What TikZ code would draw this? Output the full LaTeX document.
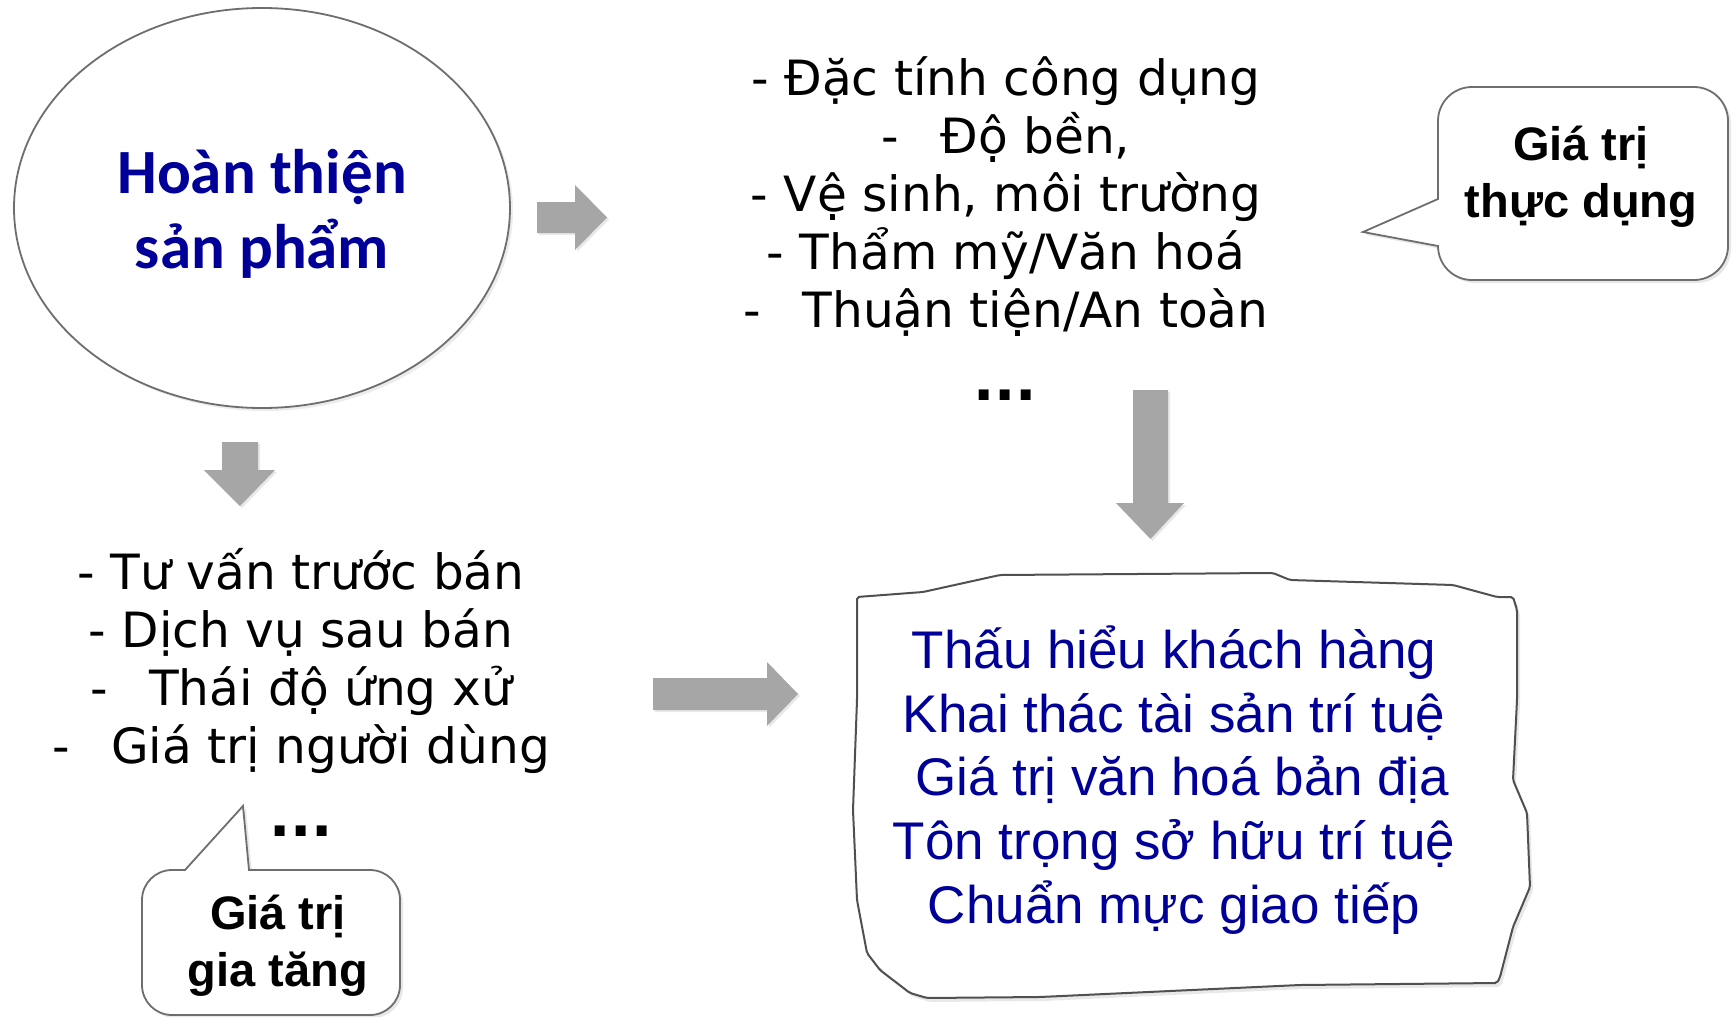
\documentclass[tikz,border=0pt]{standalone}
\usepackage{fontspec}
\newfontfamily\verdf{DejaVu Sans}
\newfontfamily\arialf{Liberation Sans}
\newfontfamily\calibf{Carlito}
\usetikzlibrary{shadows,shapes.geometric}
\definecolor{navy}{RGB}{0,0,153}
\definecolor{arrowgray}{RGB}{166,166,166}
\definecolor{edgegray}{RGB}{110,110,110}
\definecolor{paperedge}{RGB}{80,80,80}
\begin{document}
\begin{tikzpicture}[x=1pt,y=-1pt,
  blockarrow/.style={fill=arrowgray, draw=none, drop shadow={shadow xshift=2pt,shadow yshift=-2pt,opacity=0.18}},
  bubble/.style={draw=edgegray, line width=1.8pt, fill=white, drop shadow={shadow xshift=3pt,shadow yshift=-3pt,opacity=0.18}},
  paper/.style={draw=paperedge, line width=2pt, fill=white, rounded corners=2pt, drop shadow={shadow xshift=3pt,shadow yshift=-4pt,opacity=0.18}},
  listtext/.style={font=\verdf\fontsize{48.6}{57.8}\selectfont, align=center, inner sep=0pt, anchor=base},
  calltext/.style={font=\arialf\bfseries\fontsize{47}{57}\selectfont, align=center, inner sep=0pt, anchor=base},
  dotstext/.style={font=\verdf\bfseries\fontsize{56}{60}\selectfont, inner sep=0pt, anchor=base},
]
\useasboundingbox (0,0) rectangle (1733,1017);
\fill[white] (0,0) rectangle (1733,1017);

% ellipse
\node[ellipse, draw=edgegray, line width=1.8pt, fill=white, minimum width=496, minimum height=400,
      drop shadow={shadow xshift=3pt,shadow yshift=-3pt,opacity=0.15}] (prod) at (262,208) {};
\node[font=\calibf\bfseries\fontsize{63}{75}\selectfont, text=navy, align=center, inner sep=0pt, anchor=base]
  (prodtext) at (262,268) {Hoàn thiện\\sản phẩm};

% block arrows
\path[blockarrow] (537,202) -- (575,202) -- (575,185) -- (607,217.5) -- (575,250) -- (575,233) -- (537,233) -- cycle;
\path[blockarrow] (653,678) -- (767,678) -- (767,662) -- (798,694) -- (767,726) -- (767,710) -- (653,710) -- cycle;
\path[blockarrow] (222,442) -- (258,442) -- (258,470) -- (275,470) -- (240,506) -- (204,470) -- (222,470) -- cycle;
\path[blockarrow] (1133,390) -- (1168,390) -- (1168,503) -- (1184,503) -- (1150.5,539) -- (1116,503) -- (1133,503) -- cycle;

% top list
\node[listtext] (useful) at (1006,327) {- Đặc tính công dụng\\-\hspace{0.85em}Độ bền,\\- Vệ sinh, môi trường\\- Thẩm mỹ/Văn hoá\\-\hspace{0.85em}Thuận tiện/An toàn};
\node[dotstext] (dots1) at (1005,400) {...};

% left list
\node[listtext] (added) at (301,763) {- Tư vấn trước bán\\- Dịch vụ sau bán\\-\hspace{0.85em}Thái độ ứng xử\\-\hspace{0.85em}Giá trị người dùng};
\node[dotstext] (dots2) at (301,836) {...};

% right callout
\path[bubble] (1363,232) -- (1438,199) -- (1438,121) arc[start angle=180,end angle=270,radius=34]
  -- (1694,87) arc[start angle=270,end angle=360,radius=34]
  -- (1728,246) arc[start angle=0,end angle=90,radius=34]
  -- (1472,280) arc[start angle=90,end angle=180,radius=34] -- cycle;
\node[calltext] (usefullbl) at (1581,217) {Giá trị\\thực dụng};

% left callout
\path[bubble] (243,806) -- (249,870) -- (370,870) arc[start angle=270,end angle=360,radius=30]
  -- (400,985) arc[start angle=0,end angle=90,radius=30]
  -- (172,1015) arc[start angle=90,end angle=180,radius=30]
  -- (142,900) arc[start angle=180,end angle=270,radius=30] -- (185,870) -- cycle;
\node[calltext] (addedlbl) at (278,986) {Giá trị\\gia tăng};

% paper box
\path[paper] (857,597) -- (923,592) -- (1000,575) -- (1273,573) -- (1290,580) -- (1453,585) -- (1497,597) -- (1513,597)
  -- (1517,610) -- (1517,700) -- (1513,780) -- (1527,813) -- (1530,887) -- (1513,927) -- (1500,977) -- (1497,983)
  -- (1300,985) -- (1040,997) -- (927,998) -- (910,993) -- (880,970) -- (867,953) -- (857,900) -- (853,810) -- (857,700) -- cycle;
\node[font=\arialf\fontsize{53}{63.6}\selectfont, text=navy, align=center, inner sep=0pt, anchor=base]
  (core) at (1174,923) {Thấu hiểu khách hàng\\Khai thác tài sản trí tuệ\\\hspace{0.3em}Giá trị văn hoá bản địa\\Tôn trọng sở hữu trí tuệ\\Chuẩn mực giao tiếp};
\end{tikzpicture}
\end{document}
